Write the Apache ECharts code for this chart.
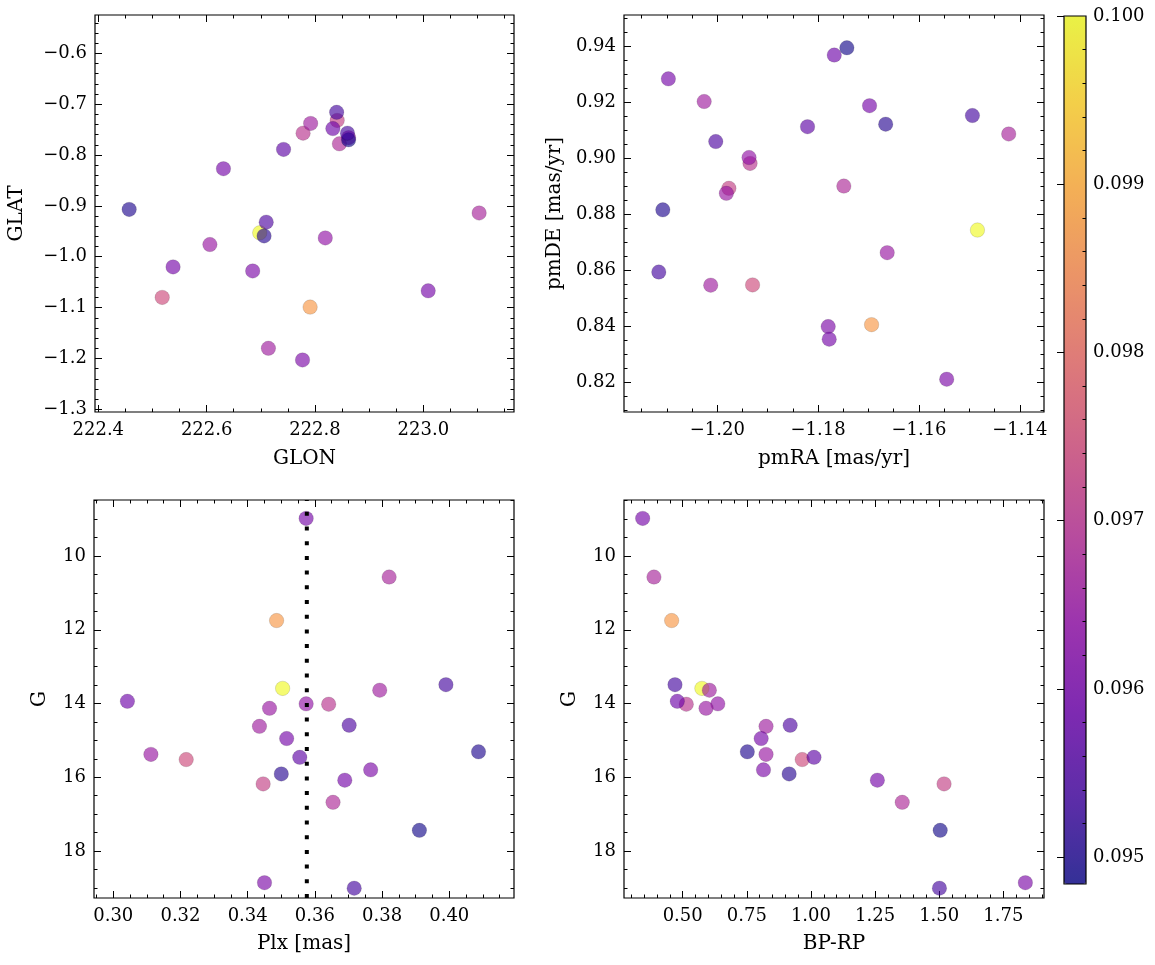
<!DOCTYPE html>
<html><head><meta charset="utf-8">
<script src="https://cdn.jsdelivr.net/npm/echarts@6/dist/echarts.min.js"></script>
<style>html,body{margin:0;padding:0;background:#fff}#c{width:1155px;height:965px}</style>
</head><body><div id="c"></div>
<script>
// ---- star values (one entry per star) ----
const glon = [222.841,222.778,222.518,222.862,222.698,222.631,223.103,222.791,222.840,222.792,222.833,222.819,222.606,222.710,222.714,222.538,222.457,222.742,222.685,222.706,223.009,222.845,222.862,222.777,222.860];
const glat = [-0.732,-0.757,-1.080,-0.766,-0.953,-0.827,-0.914,-1.099,-0.716,-0.738,-0.748,-0.963,-0.976,-0.932,-1.180,-1.020,-0.907,-0.789,-1.028,-0.959,-1.067,-0.778,-0.770,-1.203,-0.757];
const pmra = [-1.1977,-1.1935,-1.1930,-1.1663,-1.1484,-1.2097,-1.1422,-1.1694,-1.1494,-1.2026,-1.1768,-1.1937,-1.1982,-1.2003,-1.2013,-1.1698,-1.2108,-1.1821,-1.1780,-1.1666,-1.1778,-1.1749,-1.1743,-1.1545,-1.2116];
const pmde = [0.8894,0.8983,0.8549,0.8664,0.8745,0.9285,0.9088,0.8407,0.9154,0.9204,0.9370,0.9004,0.8876,0.9061,0.8548,0.9189,0.8817,0.9114,0.8400,0.9123,0.8355,0.8902,0.9396,0.8212,0.8595];
const plx  = [0.3446,0.3641,0.3217,0.3112,0.3504,0.3574,0.3821,0.3486,0.3990,0.3793,0.3042,0.3574,0.3465,0.3702,0.3435,0.3516,0.4087,0.3555,0.3766,0.3500,0.3689,0.3654,0.3911,0.3450,0.3717];
const gmag = [16.18,14.02,15.52,15.38,13.59,8.98,10.57,11.75,13.49,13.64,13.94,14.01,14.13,14.59,14.62,14.95,15.31,15.46,15.80,15.91,16.08,16.68,17.44,18.86,19.01];
const bprp = [1.519,0.514,0.966,0.825,0.575,0.344,0.388,0.457,0.470,0.604,0.479,0.637,0.591,0.919,0.825,0.806,0.752,1.012,0.815,0.915,1.259,1.356,1.504,1.836,1.501];
const cval = [0.0972,0.0970,0.0974,0.0965,0.1000,0.0960,0.0967,0.0987,0.0954,0.0966,0.0959,0.0964,0.0965,0.0955,0.0966,0.0960,0.0950,0.0957,0.0961,0.0951,0.0960,0.0968,0.0949,0.0961,0.0954];
const plxLine = 0.3576;

// ---- tick labels ----
const glonTicks = [222.4,222.6,222.8,223.0];
const glonLabels = ['222.4','222.6','222.8','223.0'];
const glatTicks = [-1.3,-1.2,-1.1,-1.0,-0.9,-0.8,-0.7,-0.6];
const glatLabels = ['\u22121.3','\u22121.2','\u22121.1','\u22121.0','\u22120.9','\u22120.8','\u22120.7','\u22120.6'];
const pmraTicks = [-1.20,-1.18,-1.16,-1.14];
const pmraLabels = ['\u22121.20','\u22121.18','\u22121.16','\u22121.14'];
const pmdeTicks = [0.82,0.84,0.86,0.88,0.90,0.92,0.94];
const pmdeLabels = ['0.82','0.84','0.86','0.88','0.90','0.92','0.94'];
const plxTicks = [0.30,0.32,0.34,0.36,0.38,0.40];
const plxLabels = ['0.30','0.32','0.34','0.36','0.38','0.40'];
const gTicks = [10,12,14,16,18];
const gLabels = ['10','12','14','16','18'];
const bprpTicks = [0.50,0.75,1.00,1.25,1.50,1.75];
const bprpLabels = ['0.50','0.75','1.00','1.25','1.50','1.75'];
const cbTicks = [0.095,0.096,0.097,0.098,0.099,0.100];
const cbLabels = ['0.095','0.096','0.097','0.098','0.099','0.100'];
const cbMin = 0.09484, cbMax = 0.1000;

const plasma = ['#0d0887','#41049d','#6a00a8','#8f0da4','#b12a90','#cc4778','#e16462','#f2844b','#fca636','#fcce25','#f0f921'];
function rgba(h, a){const n=parseInt(h.slice(1),16);return 'rgba('+((n>>16)&255)+','+((n>>8)&255)+','+(n&255)+','+a+')';}
const plasmaA = plasma.map(c => rgba(c, 0.8));

const FONT = 'DejaVu Serif';
function steps(a, b, st){const o=[];const k0=Math.ceil(a/st-1e-9),k1=Math.floor(b/st+1e-9);for(let k=k0;k<=k1;k++)o.push(+(k*st).toFixed(10));return o;}
function minors(a,b,st,maj){return steps(a,b,st).filter(v=>!maj.some(m=>Math.abs(m-v)<st/10));}

const xAxes=[], yAxes=[];
function addAxisSet(list, dim, gi, min, max, inverse, majors, labels, minorStep, name, nameGap, z){
  const mins = minors(min, max, minorStep, majors);
  const fmt = v => {const i = majors.findIndex(m => Math.abs(m - v) < 1e-9); return i >= 0 ? labels[i] : '';};
  const posA = dim==='x' ? 'bottom' : 'left';
  const posB = dim==='x' ? 'top' : 'right';
  const base = {type:'value', gridIndex:gi, min:min, max:max, inverse:inverse, splitLine:{show:false}, axisLine:{show:false}, z: z||0};
  const mk = (pos, vals, len, withLabel) => {
    const ax = Object.assign({}, base, {
      position: pos,
      axisTick:{show:true, inside:true, length:len, customValues:vals, lineStyle:{color:'#000', width:1}},
      axisLabel: withLabel ? {show:true, customValues:majors, formatter:fmt, fontFamily:FONT, fontSize:18, color:'#000', margin: dim==='x'?9:8} : {show:false}
    });
    if (withLabel && name !== null) {
      Object.assign(ax, {name:name, nameLocation:'middle', nameGap:nameGap, nameRotate: dim==='y'?90:0,
        nameTextStyle:{fontFamily:FONT, fontSize:20, color:'#000'}});
    }
    list.push(ax);
    return list.length - 1;
  };
  const main = mk(posA, majors, 7, true);
  mk(posA, mins, 3.5, false);
  mk(posB, majors, 7, false);
  mk(posB, mins, 3.5, false);
  return main;
}

const grids = [
  {left:95, top:15, width:419, height:397},
  {left:624, top:15, width:420, height:397},
  {left:94, top:500, width:420, height:398},
  {left:624, top:500, width:420, height:398},
  {left:1064, top:16, width:22, height:868, z:10}
].map(g => Object.assign({show:true, borderColor:'#000', borderWidth:1.2, backgroundColor:'transparent'}, g));

const x0 = addAxisSet(xAxes,'x',0,222.3939,223.1674,false,glonTicks,glonLabels,0.05,'GLON',37);
const y0 = addAxisSet(yAxes,'y',0,-1.3053,-0.5247,false,glatTicks,glatLabels,0.02,'GLAT',68);
const x1 = addAxisSet(xAxes,'x',1,-1.2185,-1.1352,false,pmraTicks,pmraLabels,0.005,'pmRA [mas/yr]',37);
const y1 = addAxisSet(yAxes,'y',1,0.8095,0.9513,false,pmdeTicks,pmdeLabels,0.005,'pmDE [mas/yr]',59);
const x2 = addAxisSet(xAxes,'x',2,0.29426,0.41926,false,plxTicks,plxLabels,0.005,'Plx [mas]',36);
const y2 = addAxisSet(yAxes,'y',2,8.481,19.275,true,gTicks,gLabels,0.5,'G',44);
const x3 = addAxisSet(xAxes,'x',3,0.2712,1.9087,false,bprpTicks,bprpLabels,0.05,'BP-RP',36);
const y3 = addAxisSet(yAxes,'y',3,8.481,19.275,true,gTicks,gLabels,0.5,'G',44);
// colorbar axes
xAxes.push({type:'value', gridIndex:4, min:0, max:1, show:false});
const cbMinors = minors(cbMin, cbMax, 0.0002, cbTicks);
const cbFmt = v => {const i = cbTicks.findIndex(m => Math.abs(m - v) < 1e-9); return i >= 0 ? cbLabels[i] : '';};
yAxes.push({type:'value', gridIndex:4, min:cbMin, max:cbMax, position:'right', z:10, splitLine:{show:false}, axisLine:{show:false},
  axisTick:{show:true, inside:true, length:7, customValues:cbTicks, lineStyle:{color:'#000', width:1}},
  axisLabel:{show:true, customValues:cbTicks, formatter:cbFmt, fontFamily:FONT, fontSize:18, color:'#000', margin:7}});
yAxes.push({type:'value', gridIndex:4, min:cbMin, max:cbMax, position:'right', z:10, splitLine:{show:false}, axisLine:{show:false},
  axisTick:{show:true, inside:true, length:3.5, customValues:cbMinors, lineStyle:{color:'#000', width:1}},
  axisLabel:{show:false}});

function pts(xs, ys){return xs.map((v,i)=>[v, ys[i], cval[i]]);}
const scatterBase = {type:'scatter', symbolSize:14.5, itemStyle:{borderColor:'rgba(0,0,0,0.3)', borderWidth:0.5}, emphasis:{disabled:true}, z:2};

const option = {
  animation:false,
  grid: grids,
  xAxis: xAxes,
  yAxis: yAxes,
  visualMap: [{type:'continuous', min:cbMin, max:cbMax, dimension:2, seriesIndex:[0,1,2,3],
    left:1064, top:16, itemWidth:22, itemHeight:868, padding:0, calculable:false, text:null, hoverLink:false,
    inRange:{color:plasmaA}}],
  series: [
    Object.assign({}, scatterBase, {xAxisIndex:x0, yAxisIndex:y0, data:pts(glon, glat)}),
    Object.assign({}, scatterBase, {xAxisIndex:x1, yAxisIndex:y1, data:pts(pmra, pmde)}),
    Object.assign({}, scatterBase, {xAxisIndex:x2, yAxisIndex:y2, data:pts(plx, gmag)}),
    Object.assign({}, scatterBase, {xAxisIndex:x3, yAxisIndex:y3, data:pts(bprp, gmag)}),
    {type:'line', xAxisIndex:x2, yAxisIndex:y2, data:[[plxLine,19.275],[plxLine,8.481]], symbol:'none', silent:true, z:5,
     lineStyle:{color:'#000', width:4, type:[4,10.7], cap:'butt'}}
  ]
};
echarts.init(document.getElementById('c'), null, {renderer:'canvas'}).setOption(option);
</script></body></html>
